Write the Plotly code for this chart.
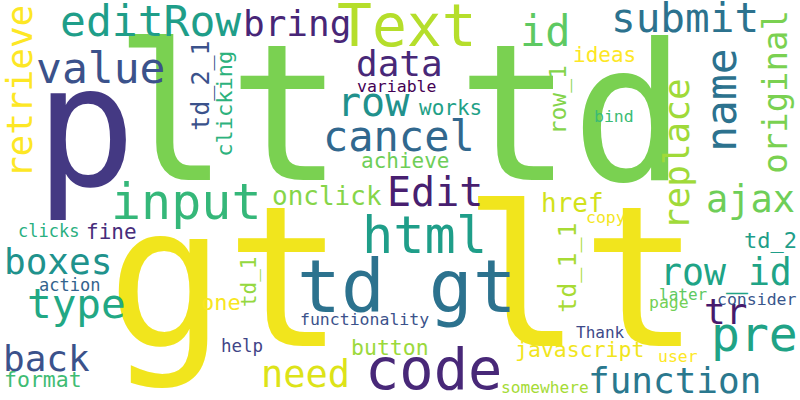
import plotly.graph_objects as go

# --- Word cloud data: words and their font size (px) ---
words = [
    "p", "lt td", "gt lt", "Text", "editRow", "bring", "value", "data",
    "variable", "row", "works", "id", "submit", "ideas", "bind", "cancel",
    "achieve", "Edit", "onclick", "html", "td gt", "input", "clicks", "fine",
    "boxes", "action", "type", "one", "functionality", "help", "back",
    "format", "need", "code", "button", "ajax", "href", "copy", "td_2",
    "row_id", "tr", "pre", "consider", "later", "page", "Thank",
    "javascript", "user", "function", "somewhere",
    "retrieve", "td_2_1", "clicking", "original", "name", "replace",
    "row_1", "td_1", "td_1_1",
]
sizes = [
    168, 190, 197, 58, 43, 36, 43, 36,
    16.5, 40, 21, 42, 41, 21, 16.5, 42,
    21, 40, 26, 52, 73, 50, 17, 21,
    36, 17, 41, 22, 16.5, 17.5, 36,
    21.5, 37, 57, 21.5, 37, 26, 16.5, 22,
    36.5, 36, 48, 16.5, 16, 16.5, 16,
    21.5, 16.5, 36, 16.2,
    36, 25, 22, 34, 43, 36,
    23, 21, 25,
]

# --- Placement ---
# horizontal words: pos_x = centre, pos_y = baseline
# vertical words (read bottom to top): pos_x = baseline, pos_y = centre
pos_x = [
    85, 400, 403, 407, 150, 297, 100, 399,
    396, 373, 450, 545, 685, 604, 614, 399,
    405, 435, 327, 424, 407, 186, 48, 111,
    58, 69, 76, 221, 364, 242, 46,
    43, 305, 433, 390, 750, 572, 606, 770,
    726, 725, 754, 757, 683, 669, 600,
    579, 678, 674, 545,
    31, 208, 231, 786, 735, 688,
    566, 256, 575,
]
pos_y = [
    182, 177, 343, 45, 35, 35, 82, 75,
    92, 115, 115, 45, 32, 62, 122, 150,
    168, 205, 205, 252, 311, 218, 237, 239,
    273, 291, 318, 310, 325, 352, 370,
    387, 387, 388, 355, 212, 212, 223, 248,
    285, 323, 350, 305, 300, 308, 338,
    357, 362, 392, 393,
    92, 86, 104, 92, 100, 154,
    100, 282, 268,
]
vertical = [0] * 50 + [1] * 9
colors = [
    "#443983", "#7ad151", "#f1e51d", "#b5de2b", "#1f9e89", "#482677", "#3b528b", "#482878",
    "#440154", "#21918c", "#1fa187", "#5ec962", "#2c728e", "#fde725", "#3bbb75", "#31688e",
    "#6ece58", "#481f70", "#86d549", "#1f9e89", "#2c728e", "#35b779", "#29af7f", "#472d7b",
    "#20928c", "#33638d", "#22a884", "#f8e621", "#3b528b", "#414487", "#3b528b",
    "#3fbc73", "#dde318", "#482878", "#9bd93c", "#6ece58", "#d2e21b", "#f4e61e", "#1f9e89",
    "#20a486", "#481a6c", "#20a386", "#39568c", "#5ec962", "#73d056", "#3e4a89",
    "#f1e51d", "#fde725", "#2a788e", "#a5db36",
    "#fde725", "#3b528b", "#2db27d", "#7ad151", "#2c728e", "#a0da39",
    "#84d44b", "#95d840", "#a8db34",
]

FONT = "DejaVu Sans Mono"
MID = 0.33  # distance from baseline to middle of the text box, in em

annotations = []
for w, s, px, py, v, c in zip(words, sizes, pos_x, pos_y, vertical, colors):
    if v:
        x, y, angle = px - MID * s, py, -90
    else:
        x, y, angle = px, py - MID * s, 0
    annotations.append(dict(
        text=w, x=x, y=y, xref="x", yref="y",
        xanchor="center", yanchor="middle",
        textangle=angle, showarrow=False,
        font=dict(family=FONT, size=s, color=c),
    ))

fig = go.Figure()
fig.update_layout(
    width=800, height=400,
    margin=dict(l=0, r=0, t=0, b=0),
    paper_bgcolor="white", plot_bgcolor="white",
    xaxis=dict(range=[0, 800], visible=False, fixedrange=True),
    yaxis=dict(range=[400, 0], visible=False, fixedrange=True),
    annotations=annotations,
    showlegend=False,
)

fig.write_html("out.html", config={"displayModeBar": False},
               post_script="document.body.style.margin='0';")
